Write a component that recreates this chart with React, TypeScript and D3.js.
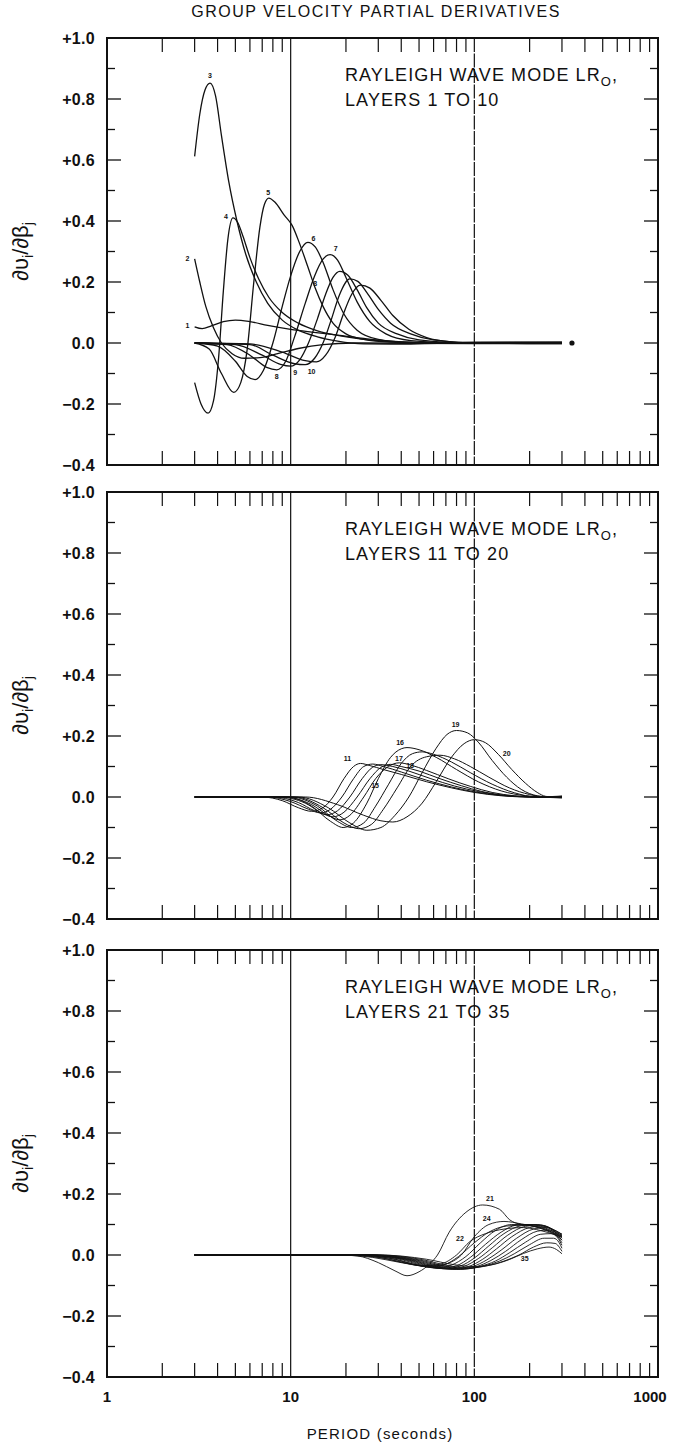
import React from 'react';
import * as d3 from 'd3';

// ---------- axis ticks & labels ----------
const periodMajor = [1, 10, 100, 1000];
const periodMajorLabels = ['1', '10', '100', '1000'];
const periodGridLines = [10, 100];
const periodMinor = [2, 3, 4, 5, 6, 7, 8, 9, 20, 30, 40, 50, 60, 70, 80, 90, 200, 300, 400, 500, 600, 700, 800, 900];
const valueMajor = [1.0, 0.8, 0.6, 0.4, 0.2, 0.0, -0.2, -0.4];
const valueMajorLabels = ['+1.0', '+0.8', '+0.6', '+0.4', '+0.2', '0.0', '\u22120.2', '\u22120.4'];
const valueMinor = [0.9, 0.7, 0.5, 0.3, 0.1, -0.1, -0.3];

// ---------- panel 1: layers 1 to 10  [period (s), du/dbeta] ----------
const layer01 = [[3, 0.053], [3.3, 0.047], [3.7, 0.056], [4.3, 0.07], [5, 0.075], [6, 0.07], [7.5, 0.058], [10, 0.045], [13, 0.036], [18, 0.026], [25, 0.015], [35, 0.006], [50, 0.002], [80, 0.002], [150, 0.003], [300, 0.002]];
const layer02 = [[3, 0.276], [3.2, 0.2], [3.45, 0.12], [3.8, 0.05], [4.2, 0.0], [4.8, -0.035], [5.6, -0.05], [6.8, -0.048], [8.5, -0.035], [11, -0.018], [15, -0.005], [22, 0], [100, -0.002], [300, -0.002]];
const layer03 = [[3, 0.612], [3.2, 0.75], [3.42, 0.83], [3.64, 0.852], [3.9, 0.81], [4.2, 0.68], [4.6, 0.53], [5.1, 0.4], [5.7, 0.29], [6.5, 0.2], [7.5, 0.13], [9, 0.075], [11, 0.042], [14, 0.02], [18, 0.006], [25, -0.003], [40, -0.004], [70, 0], [300, 0.001]];
const layer04 = [[3, -0.13], [3.25, -0.2], [3.55, -0.23], [3.8, -0.19], [4.05, -0.05], [4.3, 0.17], [4.55, 0.34], [4.85, 0.41], [5.15, 0.395], [5.5, 0.35], [6, 0.28], [6.7, 0.21], [7.6, 0.15], [9, 0.1], [11, 0.065], [14, 0.04], [18, 0.025], [25, 0.012], [40, 0.003], [70, 0], [300, -0.001]];
const layer05 = [[3, 0], [3.6, -0.02], [4.2, -0.1], [4.9, -0.162], [5.35, -0.13], [5.8, -0.02], [6.3, 0.2], [6.8, 0.38], [7.2, 0.455], [7.6, 0.475], [8.2, 0.462], [9.2, 0.42], [10.2, 0.385], [11.2, 0.325], [12.4, 0.25], [13.6, 0.18], [15, 0.12], [17, 0.065], [20, 0.03], [25, 0.012], [35, 0.003], [60, 0], [300, 0.003]];
const layer06 = [[3, 0], [4, -0.01], [5, -0.06], [5.8, -0.11], [6.4, -0.12], [7.1, -0.09], [8, 0.0], [9, 0.12], [10, 0.22], [11.2, 0.3], [12.4, 0.33], [13.6, 0.315], [15, 0.265], [17, 0.175], [19.5, 0.095], [23, 0.042], [30, 0.012], [45, 0.002], [80, 0], [300, -0.002]];
const layer07 = [[3, 0], [4.5, -0.005], [6, -0.04], [7.4, -0.08], [8.4, -0.088], [9.4, -0.06], [10.5, 0.02], [12, 0.13], [13.5, 0.22], [15, 0.275], [16.4, 0.29], [18, 0.272], [20, 0.215], [23, 0.135], [27, 0.07], [33, 0.03], [45, 0.008], [80, 0], [300, 0.002]];
const layer08 = [[3, 0], [5, -0.005], [7, -0.04], [8.8, -0.07], [10, -0.076], [11.2, -0.055], [12.5, 0.0], [14, 0.08], [15.5, 0.16], [17, 0.215], [18.5, 0.235], [20.5, 0.222], [23, 0.175], [26, 0.115], [30, 0.065], [38, 0.03], [50, 0.01], [90, 0], [300, -0.001]];
const layer09 = [[3, 0], [6, -0.005], [8, -0.04], [10.5, -0.068], [12, -0.071], [13.5, -0.05], [15, 0.0], [16.5, 0.07], [18.5, 0.16], [21, 0.21], [23.2, 0.202], [26, 0.165], [30, 0.11], [35, 0.065], [45, 0.03], [60, 0.01], [100, 0], [300, 0.001]];
const layer10 = [[3, 0], [6, -0.003], [9, -0.03], [12, -0.058], [13.8, -0.062], [15.5, -0.04], [17.5, 0.02], [19.5, 0.1], [21.5, 0.16], [24, 0.19], [27, 0.18], [31, 0.14], [36, 0.09], [44, 0.045], [55, 0.018], [75, 0.004], [110, 0], [300, 0]];
const panel1EndMarker = [[340, 0]];
const panel1LabelText = ['3', '2', '1', '4', '5', '6', '7', '8', '8', '9', '10'];
const panel1LabelPeriod = [3.64, 2.74, 2.74, 4.44, 7.55, 13.3, 17.6, 13.6, 8.39, 10.6, 13.0];
const panel1LabelValue = [0.877, 0.276, 0.058, 0.415, 0.494, 0.341, 0.311, 0.194, -0.11, -0.096, -0.095];

// ---------- panel 2: layers 11 to 20 ----------
const layer11 = [[3, 0], [7, 0], [9, -0.012], [11, -0.035], [13, -0.047], [15, -0.035], [17, 0.0], [19.5, 0.06], [22, 0.1], [24, 0.11], [27, 0.103], [32, 0.09], [40, 0.074], [55, 0.05], [75, 0.03], [100, 0.015], [140, 0.004], [200, 0], [300, 0.002]];
const layer12 = [[3, 0], [7.5, 0], [10, -0.015], [12.5, -0.04], [14.5, -0.052], [16.5, -0.04], [19, 0.0], [22, 0.06], [25, 0.1], [28, 0.108], [32, 0.1], [40, 0.082], [55, 0.055], [75, 0.033], [100, 0.017], [140, 0.005], [200, 0], [300, -0.002]];
const layer13 = [[3, 0], [8, 0], [11, -0.018], [13.5, -0.045], [15.8, -0.058], [18, -0.045], [21, 0.0], [24.5, 0.06], [28, 0.098], [31, 0.106], [36, 0.1], [44, 0.085], [58, 0.06], [78, 0.036], [105, 0.018], [145, 0.005], [210, 0], [300, 0.003]];
const layer14 = [[3, 0], [8.5, 0], [12, -0.02], [14.5, -0.05], [17, -0.065], [19.5, -0.05], [23, 0.0], [27, 0.06], [31, 0.097], [35, 0.107], [40, 0.1], [50, 0.085], [65, 0.06], [85, 0.037], [110, 0.018], [150, 0.005], [215, 0], [300, -0.003]];
const layer15 = [[3, 0], [9, 0], [13, -0.025], [16, -0.06], [18.5, -0.075], [21, -0.06], [25, 0.0], [29, 0.06], [34, 0.1], [39, 0.112], [45, 0.105], [55, 0.087], [72, 0.06], [95, 0.035], [125, 0.015], [165, 0.004], [220, 0], [300, 0.001]];
const layer16 = [[3, 0], [9.5, 0], [13, -0.03], [16.5, -0.08], [19.3, -0.1], [22, -0.085], [26, -0.02], [30, 0.06], [35, 0.13], [40, 0.158], [43, 0.162], [50, 0.155], [62, 0.13], [80, 0.09], [105, 0.05], [140, 0.02], [190, 0.004], [240, 0], [300, -0.001]];
const layer17 = [[3, 0], [10, 0], [14, -0.03], [18, -0.08], [21.5, -0.1], [25, -0.085], [29, -0.03], [34, 0.04], [40, 0.11], [46, 0.142], [52, 0.148], [60, 0.14], [75, 0.115], [95, 0.08], [125, 0.042], [165, 0.014], [220, 0], [300, 0.002]];
const layer18 = [[3, 0], [10.5, 0], [15, -0.035], [19.5, -0.085], [23.5, -0.104], [27.5, -0.09], [32, -0.04], [38, 0.03], [45, 0.1], [55, 0.132], [65, 0.137], [78, 0.125], [95, 0.1], [120, 0.065], [155, 0.03], [200, 0.008], [240, 0], [300, -0.002]];
const layer19 = [[3, 0], [11, 0], [16, -0.035], [21, -0.085], [26, -0.109], [31, -0.1], [37, -0.06], [44, 0.0], [52, 0.08], [62, 0.16], [71, 0.205], [80, 0.218], [92, 0.21], [105, 0.18], [125, 0.12], [150, 0.065], [180, 0.025], [220, 0.004], [260, 0], [300, 0.002]];
const layer20 = [[3, 0], [12, 0], [18, -0.025], [25, -0.06], [31, -0.078], [36, -0.082], [43, -0.065], [52, -0.02], [62, 0.05], [75, 0.13], [88, 0.175], [100, 0.188], [115, 0.178], [135, 0.14], [160, 0.09], [190, 0.045], [220, 0.015], [245, 0.002], [270, 0], [300, -0.001]];
const panel2LabelText = ['11', '15', '16', '17', '18', '19', '20'];
const panel2LabelPeriod = [20.4, 28.8, 39.4, 38.9, 44.7, 79.1, 150];
const panel2LabelValue = [0.126, 0.038, 0.177, 0.126, 0.104, 0.237, 0.142];

// ---------- panel 3: layers 21 to 35 ----------
const layer21 = [[3, 0], [18, 0], [23, -0.003], [30, -0.025], [37, -0.052], [43, -0.068], [50, -0.055], [57, -0.03], [63, 0.0], [73, 0.075], [90, 0.14], [111, 0.164], [137, 0.15], [156, 0.115], [180, 0.1], [210, 0.095], [255, 0.08], [300, 0.05]];
const layer22 = [[3, 0], [18, 0], [28, -0.008], [40, -0.025], [52, -0.035], [65, -0.03], [80, 0.0], [95, 0.045], [115, 0.07], [145, 0.085], [185, 0.09], [230, 0.08], [270, 0.068], [300, 0.058]];
const layer23 = [[3, 0], [20, 0], [30, -0.008], [42, -0.026], [55, -0.037], [68, -0.032], [82, -0.005], [100, 0.04], [120, 0.075], [150, 0.095], [190, 0.098], [235, 0.085], [270, 0.07], [300, 0.06]];
const layer24 = [[3, 0], [20, 0], [32, -0.01], [45, -0.03], [58, -0.04], [70, -0.03], [85, 0.0], [100, 0.06], [120, 0.1], [145, 0.11], [180, 0.102], [225, 0.09], [265, 0.075], [300, 0.062]];
const layer25 = [[3, 0], [22, 0], [34, -0.01], [48, -0.032], [62, -0.042], [75, -0.033], [90, -0.005], [108, 0.04], [130, 0.08], [160, 0.1], [200, 0.1], [240, 0.09], [275, 0.075], [300, 0.065]];
const layer26 = [[3, 0], [22, 0], [36, -0.012], [50, -0.034], [65, -0.044], [80, -0.035], [95, -0.008], [115, 0.035], [140, 0.075], [170, 0.098], [210, 0.1], [250, 0.09], [280, 0.078], [300, 0.068]];
const layer27 = [[3, 0], [24, 0], [38, -0.012], [53, -0.035], [68, -0.045], [84, -0.036], [100, -0.01], [120, 0.03], [145, 0.07], [180, 0.096], [220, 0.1], [260, 0.088], [300, 0.068]];
const layer28 = [[3, 0], [24, 0], [40, -0.013], [56, -0.036], [72, -0.046], [88, -0.037], [105, -0.012], [126, 0.025], [152, 0.065], [190, 0.094], [230, 0.098], [265, 0.085], [300, 0.062]];
const layer29 = [[3, 0], [25, 0], [42, -0.014], [59, -0.037], [76, -0.047], [93, -0.038], [111, -0.014], [132, 0.02], [160, 0.06], [200, 0.09], [240, 0.095], [270, 0.08], [300, 0.055]];
const layer30 = [[3, 0], [26, 0], [44, -0.015], [62, -0.038], [80, -0.047], [98, -0.038], [117, -0.016], [140, 0.016], [170, 0.055], [210, 0.085], [248, 0.09], [275, 0.075], [300, 0.048]];
const layer31 = [[3, 0], [27, 0], [46, -0.016], [65, -0.038], [84, -0.047], [103, -0.038], [123, -0.018], [148, 0.012], [180, 0.05], [220, 0.078], [255, 0.082], [280, 0.065], [300, 0.04]];
const layer32 = [[3, 0], [28, 0], [48, -0.016], [68, -0.038], [88, -0.046], [108, -0.037], [130, -0.02], [156, 0.008], [190, 0.042], [230, 0.068], [262, 0.07], [285, 0.055], [300, 0.032]];
const layer33 = [[3, 0], [29, 0], [50, -0.016], [71, -0.037], [92, -0.044], [113, -0.036], [137, -0.02], [165, 0.004], [200, 0.034], [240, 0.055], [270, 0.055], [290, 0.04], [300, 0.022]];
const layer34 = [[3, 0], [30, 0], [52, -0.015], [74, -0.036], [96, -0.042], [118, -0.035], [145, -0.02], [175, 0.0], [210, 0.026], [248, 0.04], [275, 0.038], [300, 0.012]];
const layer35 = [[3, 0], [30, 0], [55, -0.014], [78, -0.032], [100, -0.038], [125, -0.032], [155, -0.015], [185, 0.005], [220, 0.02], [255, 0.026], [280, 0.018], [300, 0.004]];
const panel3LabelText = ['21', '24', '22', '35'];
const panel3LabelPeriod = [121.6, 116.7, 83.5, 188];
const panel3LabelValue = [0.184, 0.12, 0.055, -0.013];

// ---------- panel texts ----------
const chartTitle = 'GROUP VELOCITY PARTIAL DERIVATIVES';
const modeText = 'RAYLEIGH WAVE MODE LR';
const layerRangeText = ['LAYERS 1 TO 10', 'LAYERS 11 TO 20', 'LAYERS 21 TO 35'];
const xAxisTitle = 'PERIOD (seconds)';

const panel1Curves = [layer01, layer02, layer03, layer04, layer05, layer06, layer07, layer08, layer09, layer10];
const panel2Curves = [layer11, layer12, layer13, layer14, layer15, layer16, layer17, layer18, layer19, layer20];
const panel3Curves = [layer21, layer22, layer23, layer24, layer25, layer26, layer27, layer28, layer29, layer30, layer31, layer32, layer33, layer34, layer35];

const FONT = '"Liberation Sans", Arial, Helvetica, sans-serif';
const W = 674;
const H = 1450;
const LEFT = 107;
const RIGHT = 658;
const PANEL_TOPS = [38, 492, 950];
const PANEL_H = 427;

type Pt = number[];

function Panel(props: {
  top: number;
  curves: Pt[][];
  labelText: string[];
  labelPeriod: number[];
  labelValue: number[];
  rangeText: string;
  strokeW: number;
  marker?: Pt[];
}) {
  const { top, curves, labelText, labelPeriod, labelValue, rangeText, strokeW, marker } = props;
  const x = d3.scaleLog().domain([1, 1000]).range([LEFT, RIGHT]);
  const y = d3.scaleLinear().domain([-0.4, 1.0]).range([top + PANEL_H, top]);
  const line = d3
    .line<Pt>()
    .x((d) => x(d[0]))
    .y((d) => y(d[1]))
    .curve(d3.curveMonotoneX);
  const bottom = top + PANEL_H;
  return (
    <g>
      {/* curves */}
      <g fill="none" stroke="#111" strokeWidth={strokeW} strokeLinejoin="round">
        {curves.map((c, i) => (
          <path key={i} d={line(c) || ''} />
        ))}
      </g>
      {marker && marker.map((m, i) => <circle key={i} cx={x(m[0])} cy={y(m[1])} r={2.6} fill="#111" />)}
      {/* curve labels */}
      <g fontFamily={FONT} fontSize={7} fontWeight="bold" fill="#111" textAnchor="middle">
        {labelText.map((t, i) => (
          <text key={i} x={x(labelPeriod[i])} y={y(labelValue[i])} dy="0.35em">
            {t}
          </text>
        ))}
      </g>
      {/* grid lines at 10 and 100 */}
      {periodGridLines.map((p, i) => (
        <line key={i} x1={x(p)} x2={x(p)} y1={top} y2={bottom} stroke="#111" strokeWidth={1.2} strokeDasharray={i === 1 ? '14 1.5' : undefined} />
      ))}
      {/* x minor ticks top & bottom */}
      {periodMinor.map((p, i) => (
        <g key={i} stroke="#111" strokeWidth={1.2}>
          <line x1={x(p)} x2={x(p)} y1={top} y2={top + 14} />
          <line x1={x(p)} x2={x(p)} y1={bottom} y2={bottom - 14} />
        </g>
      ))}
      {/* y ticks left & right */}
      {valueMajor.map((v, i) => (
        <g key={'M' + i} stroke="#111" strokeWidth={1.3}>
          <line x1={LEFT} x2={LEFT + 14} y1={y(v)} y2={y(v)} />
          <line x1={RIGHT} x2={RIGHT - 14} y1={y(v)} y2={y(v)} />
        </g>
      ))}
      {valueMinor.map((v, i) => (
        <g key={'m' + i} stroke="#111" strokeWidth={1.3}>
          <line x1={LEFT} x2={LEFT + 8} y1={y(v)} y2={y(v)} />
          <line x1={RIGHT} x2={RIGHT - 8} y1={y(v)} y2={y(v)} />
        </g>
      ))}
      {/* frame */}
      <rect x={LEFT} y={top} width={RIGHT - LEFT} height={PANEL_H} fill="none" stroke="#111" strokeWidth={2} />
      {/* y tick labels */}
      <g fontFamily={FONT} fontSize={16} fontWeight="bold" fill="#111" textAnchor="end">
        {valueMajor.map((v, i) => (
          <text key={i} x={95} y={y(v)} dy="0.36em" letterSpacing={0.3}>
            {valueMajorLabels[i]}
          </text>
        ))}
      </g>
      {/* y axis title */}
      <text
        transform={`translate(28,${y(0.3)}) rotate(-90)`}
        fontFamily={FONT}
        fontSize={22}
        fill="#111"
        textAnchor="middle"
      >
        {'\u2202\u03C5'}
        <tspan fontSize={14} dy={5}>i</tspan>
        <tspan dy={-5}>{'/\u2202\u03B2'}</tspan>
        <tspan fontSize={14} dy={5}>j</tspan>
      </text>
      {/* annotation */}
      <g fontFamily={FONT} fontSize={18} fill="#111" letterSpacing={1.1}>
        <text x={345} y={top + 43}>
          {modeText}
          <tspan fontSize={13} dy={5}>O</tspan>
          <tspan dy={-5}>,</tspan>
        </text>
        <text x={345} y={top + 68}>{rangeText}</text>
      </g>
    </g>
  );
}

export default function App() {
  const x = d3.scaleLog().domain([1, 1000]).range([LEFT, RIGHT]);
  const lastBottom = PANEL_TOPS[2] + PANEL_H;
  return (
    <svg
      width={W}
      height={H}
      viewBox={`0 0 ${W} ${H}`}
      style={{ position: 'absolute', left: 0, top: 0, background: '#fff' }}
    >
      <rect x={0} y={0} width={W} height={H} fill="#fff" />
      <text x={376} y={17} textAnchor="middle" fontFamily={FONT} fontSize={16} letterSpacing={1.5} fill="#111">
        {chartTitle}
      </text>
      <Panel
        top={PANEL_TOPS[0]}
        curves={panel1Curves}
        labelText={panel1LabelText}
        labelPeriod={panel1LabelPeriod}
        labelValue={panel1LabelValue}
        rangeText={layerRangeText[0]}
        strokeW={1.3}
        marker={panel1EndMarker}
      />
      <Panel
        top={PANEL_TOPS[1]}
        curves={panel2Curves}
        labelText={panel2LabelText}
        labelPeriod={panel2LabelPeriod}
        labelValue={panel2LabelValue}
        rangeText={layerRangeText[1]}
        strokeW={1}
      />
      <Panel
        top={PANEL_TOPS[2]}
        curves={panel3Curves}
        labelText={panel3LabelText}
        labelPeriod={panel3LabelPeriod}
        labelValue={panel3LabelValue}
        rangeText={layerRangeText[2]}
        strokeW={0.9}
      />
      {/* x tick labels */}
      <g fontFamily={FONT} fontSize={15} fontWeight="bold" fill="#111" textAnchor="middle">
        {periodMajor.map((p, i) => (
          <text key={i} x={i === 3 ? x(p) - 8 : x(p)} y={lastBottom + 25}>
            {periodMajorLabels[i]}
          </text>
        ))}
      </g>
      <text x={380} y={lastBottom + 62} textAnchor="middle" fontFamily={FONT} fontSize={15} letterSpacing={1.2} fill="#111">
        {xAxisTitle}
      </text>
    </svg>
  );
}
